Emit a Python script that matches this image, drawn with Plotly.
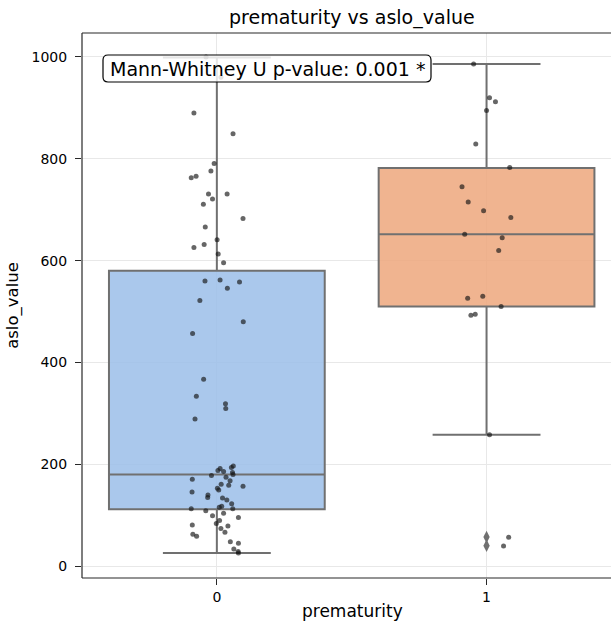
import plotly.graph_objects as go

# Groups on the x axis
categories = [0, 1]
tick_labels = ["0", "1"]

# Box summary per group: quartiles and whisker ends
q1 = [112, 510]
median = [180, 652]
q3 = [580, 782]
whisker_low = [26, 258]
whisker_high = [999, 986]

# Individual aslo_value observations (strip points) with their horizontal offsets
group0_values = [
    1000, 960, 890, 849, 791, 776, 766, 763, 731, 731, 721, 711, 683, 666,
    641, 632, 626, 613, 596, 562, 560, 558, 546, 522, 480, 457, 367, 334, 319, 310, 289,
    197, 194, 192, 188, 186, 184, 180, 178, 175, 171, 168, 161, 159, 157, 153, 150,
    146, 140, 135, 134, 130, 123, 118, 116, 113, 113, 109, 104, 99, 96, 90, 84, 81,
    79, 74, 67, 63, 59, 48, 45, 34, 29, 26,
]
group0_offsets = [
    -0.04, 0.015, -0.085, 0.06, -0.01, -0.022, -0.077, -0.095, -0.031, 0.038, -0.016, -0.05, 0.097, -0.043,
    0.001, -0.047, -0.085, 0.005, 0.025, 0.012, -0.044, 0.084, 0.039, -0.063, 0.098, -0.09, -0.049, -0.076, 0.032, 0.033, -0.081,
    0.061, 0.054, 0.012, 0.004, 0.025, 0.058, 0.06, -0.02, 0.034, -0.091, 0.049, 0.016, 0.044, 0.097, 0.002, 0.007,
    -0.092, -0.033, -0.034, 0.021, 0.037, 0.055, 0.018, 0.009, -0.095, 0.059, -0.041, 0.025, -0.016, 0.08, 0.01, -0.002, -0.091,
    0.041, 0.015, 0.03, -0.089, -0.075, 0.05, 0.08, 0.063, 0.079, 0.08,
]
group1_values = [
    986, 920, 912, 895, 829, 783, 745, 715, 698, 685, 652, 645, 620,
    530, 526, 510, 495, 493, 258, 57, 40,
]
group1_offsets = [
    -0.048, 0.011, 0.033, 0.0, -0.04, 0.086, -0.091, -0.068, -0.011, 0.09, -0.081, 0.058, 0.045,
    -0.014, -0.07, 0.054, -0.042, -0.058, 0.011, 0.082, 0.063,
]

# Values beyond the whiskers of group 1
outlier_values = [57.5, 40.5]

title_text = "prematurity vs aslo_value"
x_title = "prematurity"
y_title = "aslo_value"
test_label = "Mann-Whitney U p-value: 0.001 *"

box_fills = ["rgba(155,190,233,0.85)", "rgba(237,167,124,0.85)"]
line_grey = "rgb(112,112,112)"
axis_line = "rgb(40,40,40)"
font_family = "DejaVu Sans, Liberation Sans, sans-serif"

fig = go.Figure()

for i, cat in enumerate(categories):
    fig.add_trace(go.Box(
        x=[cat],
        q1=[q1[i]],
        median=[median[i]],
        q3=[q3[i]],
        lowerfence=[whisker_low[i]],
        upperfence=[whisker_high[i]],
        width=0.8,
        whiskerwidth=0.5,
        fillcolor=box_fills[i],
        line=dict(color=line_grey, width=2),
        boxpoints=False,
        showlegend=False,
        hoverinfo="skip",
    ))

fig.add_trace(go.Scatter(
    x=[categories[1]] * len(outlier_values),
    y=outlier_values,
    mode="markers",
    marker=dict(symbol="diamond-tall", size=9, color=line_grey),
    showlegend=False,
))

strip_x = [categories[0] + o for o in group0_offsets] + [categories[1] + o for o in group1_offsets]
strip_y = group0_values + group1_values
fig.add_trace(go.Scatter(
    x=strip_x,
    y=strip_y,
    mode="markers",
    marker=dict(size=5, color="rgba(20,20,20,0.65)", line=dict(width=0)),
    showlegend=False,
))

# Plot-area geometry in pixels, used for the rounded label frame
W, H = 611, 622
ML, MR, MT, MB = 82, 0, 33, 44
pw, ph = W - ML - MR, H - MT - MB
x_lo = -0.5
x_hi = x_lo + pw / 269.7


def px_to_paper(xp, yp):
    return (xp - ML) / pw, (H - MB - yp) / ph


def rounded_rect(x0, y0, x1, y1, r):
    pts = []
    a, b = px_to_paper(x0 + r, y0)
    pts.append(f"M {a},{b}")
    a, b = px_to_paper(x1 - r, y0); pts.append(f"L {a},{b}")
    a, b = px_to_paper(x1, y0 + r); c, d = px_to_paper(x1, y0); pts.append(f"Q {c},{d} {a},{b}")
    a, b = px_to_paper(x1, y1 - r); pts.append(f"L {a},{b}")
    a, b = px_to_paper(x1 - r, y1); c, d = px_to_paper(x1, y1); pts.append(f"Q {c},{d} {a},{b}")
    a, b = px_to_paper(x0 + r, y1); pts.append(f"L {a},{b}")
    a, b = px_to_paper(x0, y1 - r); c, d = px_to_paper(x0, y1); pts.append(f"Q {c},{d} {a},{b}")
    a, b = px_to_paper(x0, y0 + r); pts.append(f"L {a},{b}")
    a, b = px_to_paper(x0 + r, y0); c, d = px_to_paper(x0, y0); pts.append(f"Q {c},{d} {a},{b}")
    pts.append("Z")
    return " ".join(pts)


label_box = (103, 55, 431, 82)
lx, ly = px_to_paper((label_box[0] + label_box[2]) / 2, (label_box[1] + label_box[3]) / 2)

fig.update_layout(
    width=W,
    height=H,
    margin=dict(l=ML, r=MR, t=MT, b=MB),
    paper_bgcolor="white",
    plot_bgcolor="white",
    font=dict(family=font_family, size=14, color="black"),
    xaxis=dict(
        range=[x_lo, x_hi],
        tickvals=categories,
        ticktext=tick_labels,
        showgrid=True,
        gridcolor="rgb(232,232,232)",
        gridwidth=1,
        zeroline=False,
        showline=False,
        ticks="outside",
        ticklen=6,
        tickcolor=axis_line,
        tickfont=dict(size=14),
    ),
    yaxis=dict(
        range=[-23, 1047],
        tickvals=[0, 200, 400, 600, 800, 1000],
        showgrid=True,
        gridcolor="rgb(232,232,232)",
        gridwidth=1,
        zeroline=False,
        showline=False,
        ticks="outside",
        ticklen=6,
        tickcolor=axis_line,
        tickfont=dict(size=14),
        ticklabelstandoff=5,
        title=dict(text=y_title, font=dict(size=16.5), standoff=8),
    ),
    shapes=[
        # left, bottom and top spines
        dict(type="line", xref="paper", yref="paper", x0=0, x1=0, y0=0, y1=1,
             line=dict(color=axis_line, width=1.2), layer="above"),
        dict(type="line", xref="paper", yref="paper", x0=0, x1=1, y0=0, y1=0,
             line=dict(color=axis_line, width=1.2), layer="above"),
        dict(type="line", xref="paper", yref="paper", x0=0, x1=1, y0=1, y1=1,
             line=dict(color=axis_line, width=1.2), layer="above"),
        dict(type="path", xref="paper", yref="paper",
             path=rounded_rect(*label_box, 5),
             fillcolor="rgba(255,255,255,0.82)",
             line=dict(color="black", width=1.2), layer="above"),
    ],
    annotations=[
        dict(
            text=title_text,
            xref="paper", yref="paper", x=(352 - ML) / pw, y=1.0, yshift=2,
            xanchor="center", yanchor="bottom", showarrow=False,
            font=dict(size=19),
        ),
        dict(
            text=x_title,
            xref="paper", yref="paper", x=(352 - ML) / pw, y=0, yshift=-21,
            xanchor="center", yanchor="top", showarrow=False,
            font=dict(size=17),
        ),
        dict(
            text=test_label,
            xref="paper", yref="paper", x=lx, y=ly,
            xanchor="center", yanchor="middle", showarrow=False,
            font=dict(size=19),
        ),
    ],
)

fig.write_html("out.html")
